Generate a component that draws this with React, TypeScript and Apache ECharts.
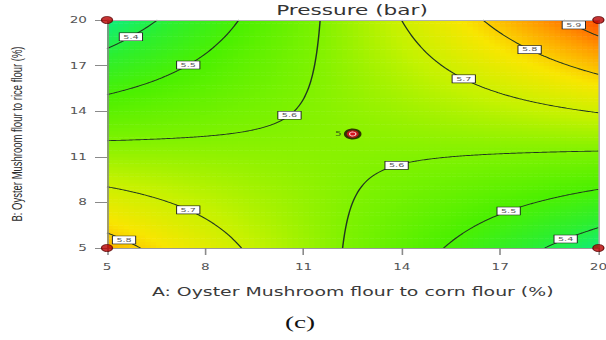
import React, { useEffect, useRef } from "react";
import * as echarts from "echarts";

// Fitted response-surface model for pressure (bar), coded factors a, b in [-1, 1]:
// P = b0 + bA*a + bB*b + bAB*a*b
const modelTerms = ["intercept", "A", "B", "AB"];
const modelCoefficients = [5.615, 0.0295, 0.025, 0.2725];

// Factor ranges (actual units, %)
const factorLow = 5;
const factorHigh = 20;
const axisTicks = [5, 8, 11, 14, 17, 20];

// Contour levels and where each in-line label sits (A position, level)
const contourLevels = [5.4, 5.5, 5.6, 5.7, 5.8, 5.9];
const labelLevels = [5.4, 5.5, 5.6, 5.7, 5.8, 5.9, 5.6, 5.5, 5.4, 5.7, 5.8];
const labelAPositions = [5.73, 7.48, 10.57, 15.89, 17.9, 19.25, 13.84, 17.26, 19.0, 7.48, 5.52];

// Design points
const factorialA = [5, 5, 20, 20];
const factorialB = [5, 20, 5, 20];
const centerA = [12.5];
const centerB = [12.5];
const centerReplicates = 5;

// Colour ramp for the response
const responseMin = 5.33;
const responseMax = 5.95;
const rampColors = ["#0aee88", "#2cef30", "#4cf000", "#7cf200", "#c4f200", "#f8e600", "#ff9c00", "#ff4800"];

// The figure is rendered narrow and stretched horizontally
const STRETCH = 1.6;
const PAGE_W = 606;
const PAGE_H = 340;
const W = PAGE_W / STRETCH;

const mid = (factorLow + factorHigh) / 2;
const half = (factorHigh - factorLow) / 2;
const toCoded = (v: number) => (v - mid) / half;
const fromCoded = (c: number) => mid + half * c;

const [b0, bA, bB, bAB] = modelCoefficients;
const predict = (A: number, B: number) => {
  const a = toCoded(A);
  const b = toCoded(B);
  return b0 + bA * a + bB * b + bAB * a * b;
};
const solveB = (A: number, level: number) => {
  const a = toCoded(A);
  return fromCoded((level - b0 - bA * a) / (bB + bAB * a));
};
const solveA = (B: number, level: number) => {
  const b = toCoded(B);
  return fromCoded((level - b0 - bB * b) / (bA + bAB * b));
};

const inRange = (v: number) => isFinite(v) && v >= factorLow - 1e-9 && v <= factorHigh + 1e-9;

// Both hyperbola branches of one contour level, clipped to the design space
function contourBranches(level: number): number[][][] {
  const pts: number[][] = [];
  const N = 300;
  for (let i = 0; i <= N; i++) {
    const t = factorLow + ((factorHigh - factorLow) * i) / N;
    const B = solveB(t, level);
    if (inRange(B)) pts.push([t, B]);
    const A = solveA(t, level);
    if (inRange(A)) pts.push([A, t]);
  }
  const split = fromCoded(-bB / bAB);
  const left = pts.filter((p) => p[0] < split).sort((p, q) => p[0] - q[0]);
  const right = pts.filter((p) => p[0] > split).sort((p, q) => p[0] - q[0]);
  return [left, right].filter((br) => br.length > 1);
}

// Surface cells
const NA = 90;
const NB = 70;
const dA = (factorHigh - factorLow) / NA;
const dB = (factorHigh - factorLow) / NB;
const surfaceCells: number[][] = [];
for (let i = 0; i < NA; i++) {
  for (let j = 0; j < NB; j++) {
    const A = factorLow + dA * (i + 0.5);
    const B = factorLow + dB * (j + 0.5);
    surfaceCells.push([A, B, predict(A, B)]);
  }
}

export default function App() {
  const ref = useRef<HTMLDivElement>(null);

  useEffect(() => {
    if (!ref.current) return;
    const chart = echarts.init(ref.current, undefined, { renderer: "svg" });

    const gridLeft = 107 / STRETCH;
    const gridRight = W - 598 / STRETCH;

    const option: any = {
      animation: false,
      backgroundColor: "#ffffff",
      textStyle: { fontFamily: "DejaVu Sans" },
      grid: {
        left: gridLeft,
        right: gridRight,
        top: 20,
        bottom: 92,
        containLabel: false,
        outerBoundsMode: "none",
      },
      visualMap: {
        type: "continuous",
        show: false,
        min: responseMin,
        max: responseMax,
        dimension: 2,
        seriesIndex: 0,
        inRange: { color: rampColors },
      },
      xAxis: [
        {
          type: "value",
          min: factorLow,
          max: factorHigh,
          interval: 3,
          z: 10,
          name: "A: Oyster Mushroom flour to corn flour (%)",
          nameLocation: "middle",
          nameGap: 38,
          nameTextStyle: { fontSize: 11.8, color: "#3a3a3a", fontFamily: "DejaVu Sans" },
          splitLine: { show: false },
          axisLine: { show: true, lineStyle: { color: "#9a9a9a", width: 1 } },
          axisTick: { show: true, length: 7, lineStyle: { color: "#8a8a8a" } },
          axisLabel: {
            fontSize: 8.5,
            color: "#555",
            margin: 14,
            customValues: axisTicks,
          },
        },
        {
          type: "value",
          position: "top",
          min: factorLow,
          max: factorHigh,
          z: 10,
          splitLine: { show: false },
          axisLine: { show: true, lineStyle: { color: "#b0b0b0", width: 1 } },
          axisTick: { show: false },
          axisLabel: { show: false },
        },
      ],
      yAxis: [
        {
          type: "value",
          min: factorLow,
          max: factorHigh,
          interval: 3,
          z: 10,
          name: "B: Oyster Mushroom flour to rice flour (%)",
          nameLocation: "middle",
          nameGap: 51,
          nameTextStyle: { fontSize: 9.5, color: "#2a2a2a", fontFamily: "Liberation Sans" },
          splitLine: { show: false },
          axisLine: { show: true, lineStyle: { color: "#8a8a8a", width: 1 } },
          axisTick: { show: true, length: 7.5, lineStyle: { color: "#8a8a8a" } },
          axisLabel: { fontSize: 8.5, color: "#555", margin: 12.5 },
        },
        {
          type: "value",
          position: "right",
          min: factorLow,
          max: factorHigh,
          z: 10,
          splitLine: { show: false },
          axisLine: { show: true, lineStyle: { color: "#b0b0b0", width: 1 } },
          axisTick: { show: false },
          axisLabel: { show: false },
        },
      ],
      graphic: [
        {
          type: "text",
          x: 352 / STRETCH,
          y: 10,
          style: {
            text: "Pressure (bar)",
            fontSize: 13.5,
            fontFamily: "DejaVu Sans",
            fill: "#333",
            align: "center",
            verticalAlign: "middle",
          },
        },
        {
          type: "text",
          x: 300 / STRETCH,
          y: 322,
          style: {
            text: "(c)",
            fontSize: 17,
            fontFamily: "Liberation Serif",
            fill: "#111",
            align: "center",
            verticalAlign: "middle",
          },
        },
      ],
      series: [
        {
          name: "surface",
          type: "custom",
          data: surfaceCells,
          encode: { x: 0, y: 1 },
          silent: true,
          renderItem: (params: any, api: any) => {
            const A = api.value(0);
            const B = api.value(1);
            const p0 = api.coord([A - dA / 2, B + dB / 2]);
            const p1 = api.coord([A + dA / 2, B - dB / 2]);
            return {
              type: "rect",
              shape: {
                x: p0[0],
                y: p0[1],
                width: p1[0] - p0[0] + 0.5,
                height: p1[1] - p0[1] + 0.5,
              },
              style: { fill: api.visual("color") },
            };
          },
        },
        {
          name: "contours",
          type: "custom",
          data: contourLevels.map((l) => [mid, mid, l]),
          encode: { x: 0, y: 1 },
          silent: true,
          z: 3,
          renderItem: (params: any, api: any) => {
            const level = api.value(2);
            const branches = contourBranches(level);
            return {
              type: "group",
              children: branches.map((br) => ({
                type: "polyline",
                shape: { points: br.map((p) => api.coord(p)) },
                style: { stroke: "#203620", lineWidth: 0.9, fill: "none" },
              })),
            };
          },
        },
        {
          name: "contour labels",
          type: "custom",
          data: labelLevels.map((l, i) => [labelAPositions[i], solveB(labelAPositions[i], l), l]),
          encode: { x: 0, y: 1 },
          silent: true,
          z: 4,
          renderItem: (params: any, api: any) => {
            const p = api.coord([api.value(0), api.value(1)]);
            return {
              type: "text",
              x: p[0],
              y: p[1],
              style: {
                text: Number(api.value(2)).toFixed(1),
                fontSize: 6,
                fontFamily: "DejaVu Sans",
                fill: "#555",
                backgroundColor: "#ffffff",
                borderColor: "#222",
                borderWidth: 0.6,
                padding: [0.8, 2.2, 0.6, 2.2],
                align: "center",
                verticalAlign: "middle",
              },
            };
          },
        },
        {
          name: "factorial points",
          type: "scatter",
          data: factorialA.map((a, i) => [a, factorialB[i]]),
          symbol: "circle",
          symbolSize: 7,
          clip: false,
          z: 12,
          itemStyle: { color: "#b80000", borderColor: "#5a0000", borderWidth: 0.8 },
        },
        {
          name: "center point ring",
          type: "scatter",
          data: centerA.map((a, i) => [a, centerB[i]]),
          symbol: "circle",
          symbolSize: 11,
          z: 12,
          itemStyle: { color: "#1c0404" },
          label: {
            show: true,
            position: "left",
            distance: 1.5,
            formatter: () => String(centerReplicates),
            fontSize: 6.5,
            color: "#1c3a1c",
          },
        },
        {
          name: "center point",
          type: "scatter",
          data: centerA.map((a, i) => [a, centerB[i]]),
          symbol: "circle",
          symbolSize: 7.5,
          z: 13,
          itemStyle: { color: "#e01020" },
        },
        {
          name: "center point core",
          type: "scatter",
          data: centerA.map((a, i) => [a, centerB[i]]),
          symbol: "circle",
          symbolSize: 4,
          z: 14,
          itemStyle: { color: "#e01020", borderColor: "#ffffff", borderWidth: 0.8 },
        },
      ],
    };

    chart.setOption(option);
    return () => chart.dispose();
  }, []);

  return (
    <div
      style={{
        position: "fixed",
        left: 0,
        top: 0,
        width: PAGE_W,
        height: PAGE_H,
        overflow: "hidden",
        background: "#ffffff",
      }}
    >
      <div
        ref={ref}
        style={{
          width: W,
          height: PAGE_H,
          transform: `scaleX(${STRETCH})`,
          transformOrigin: "0 0",
        }}
      />
    </div>
  );
}
